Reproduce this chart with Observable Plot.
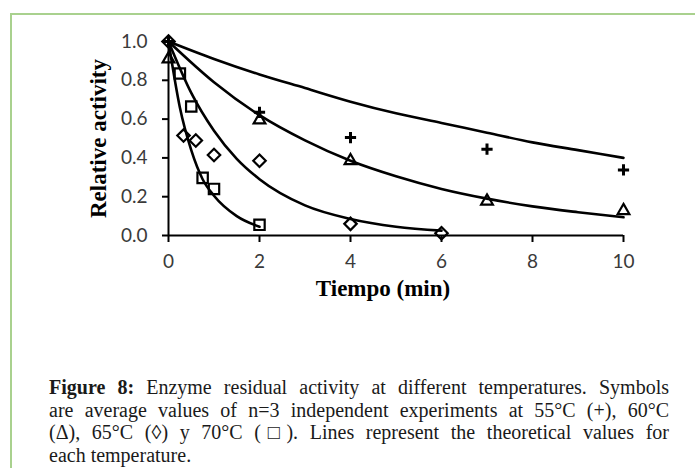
<!DOCTYPE html>
<html>
<head>
<meta charset="utf-8">
<script src="https://cdn.jsdelivr.net/npm/d3@7"></script>
<script src="https://cdn.jsdelivr.net/npm/@observablehq/plot@0.6"></script>
<style>
  body { margin: 0; background: #fff; }
  #wrap { position: relative; width: 695px; height: 468px; overflow: hidden; background: #fff; }
  #frame { position: absolute; left: 10px; top: 13px; width: 720px; height: 500px;
           border-left: 2px solid #a9d18e; border-top: 2px solid #a9d18e; }
  #chart { position: absolute; left: 0; top: 0; }
  #caption { position: absolute; left: 49px; top: 376px; width: 620px;
             font-family: "Liberation Serif", serif; font-size: 20px; line-height: 22.6px; color: #1a1a1a; }
  #caption .l { text-align: justify; text-align-last: justify; white-space: nowrap; }
  #caption .last { text-align: left; }
</style>
</head>
<body>
<div id="wrap">
  <div id="frame"></div>
  <div id="chart"></div>
  <div id="caption">
    <div class="l"><b>Figure 8:</b> Enzyme residual activity at different temperatures. Symbols</div>
    <div class="l">are average values of n=3 independent experiments at 55°C (+), 60°C</div>
    <div class="l">(Δ), 65°C (◊) y 70°C (□). Lines represent the theoretical values for</div>
    <div class="last">each temperature.</div>
  </div>
</div>
<script>
// ---- Data ----
const xTicks = [0, 2, 4, 6, 8, 10];
const yTicks = [0, 0.2, 0.4, 0.6, 0.8, 1.0];
const xTitle = "Tiempo (min)";
const yTitle = "Relative activity";

// measured points (symbols)
const t55 = [0, 2, 4, 7, 10];
const v55 = [1.0, 0.635, 0.505, 0.445, 0.338];
const t60 = [0, 2, 4, 7, 10];
const v60 = [0.91, 0.595, 0.385, 0.177, 0.128];
const t65 = [0, 0.33, 0.6, 1, 2, 4, 6];
const v65 = [1.0, 0.515, 0.49, 0.415, 0.385, 0.06, 0.012];
const t70 = [0.25, 0.5, 0.75, 1, 2];
const v70 = [0.835, 0.665, 0.297, 0.24, 0.055];

// theoretical curves
const c55t = [0, 1, 2, 3, 4, 5, 6, 7, 8, 9, 10];
const c55v = [1.0, 0.91, 0.83, 0.76, 0.69, 0.63, 0.58, 0.53, 0.48, 0.44, 0.40];
const c60t = [0, 1, 2, 3, 4, 5, 6, 7, 8, 9, 10];
const c60v = [1.0, 0.79, 0.62, 0.49, 0.385, 0.305, 0.24, 0.19, 0.15, 0.12, 0.094];
const c65t = [0, 0.5, 1, 1.5, 2, 3, 4, 5, 6];
const c65v = [1.0, 0.735, 0.54, 0.395, 0.29, 0.155, 0.085, 0.045, 0.025];
const c70t = [0, 0.25, 0.5, 0.75, 1, 1.5, 2];
const c70v = [1.0, 0.66, 0.44, 0.29, 0.205, 0.10, 0.045];

const zip = (t, v) => t.map((x, i) => ({x, y: v[i]}));

const lineOpts = {x: "x", y: "y", stroke: "black", strokeWidth: 2.6, curve: "monotone-x"};
const dotOpts = {x: "x", y: "y", fill: "none", stroke: "black", strokeWidth: 2.2};

const chart = Plot.plot({
  width: 695,
  height: 305,
  marginLeft: 168,
  marginRight: 72,
  marginTop: 41,
  marginBottom: 70,
  x: {domain: [0, 10]},
  y: {domain: [0, 1]},
  style: {fontFamily: "Lato", fontSize: "19px", color: "#3a3a3a", background: "transparent", overflow: "visible"},
  marks: [
    Plot.axisY({ticks: yTicks, tickFormat: d3.format(".1f"), tickSize: 6, tickPadding: 15,
                stroke: "black", strokeWidth: 2, label: null, fontSize: 19}),
    Plot.axisX({ticks: xTicks, tickSize: 7, tickPadding: 12,
                stroke: "black", strokeWidth: 2, label: null, fontSize: 19}),
    Plot.ruleX([0], {stroke: "black", strokeWidth: 2}),
    Plot.ruleY([0], {stroke: "black", strokeWidth: 2}),
    Plot.line(zip(c55t, c55v), lineOpts),
    Plot.line(zip(c60t, c60v), lineOpts),
    Plot.line(zip(c65t, c65v), lineOpts),
    Plot.line(zip(c70t, c70v), lineOpts),
    Plot.dot(zip(t55, v55), {...dotOpts, symbol: "plus", r: 3.7, strokeWidth: 3}),
    Plot.dot(zip(t60, v60), {...dotOpts, symbol: "triangle2", r: 5.6}),
    Plot.dot(zip(t65, v65), {...dotOpts, symbol: "diamond2", r: 5.6}),
    Plot.dot(zip(t70, v70), {...dotOpts, symbol: "square2", r: 6.6}),
    Plot.text([yTitle], {frameAnchor: "left", rotate: -90, dx: -70, lineAnchor: "middle", textAnchor: "middle",
                         fontFamily: "Liberation Serif", fontWeight: "bold", fontSize: 23, fill: "black"}),
    Plot.text([xTitle], {frameAnchor: "bottom", dy: 53, dx: -13, lineAnchor: "middle", textAnchor: "middle",
                         fontFamily: "Liberation Serif", fontWeight: "bold", fontSize: 23, fill: "black"})
  ]
});
document.getElementById("chart").appendChild(chart);
</script>
</body>
</html>
